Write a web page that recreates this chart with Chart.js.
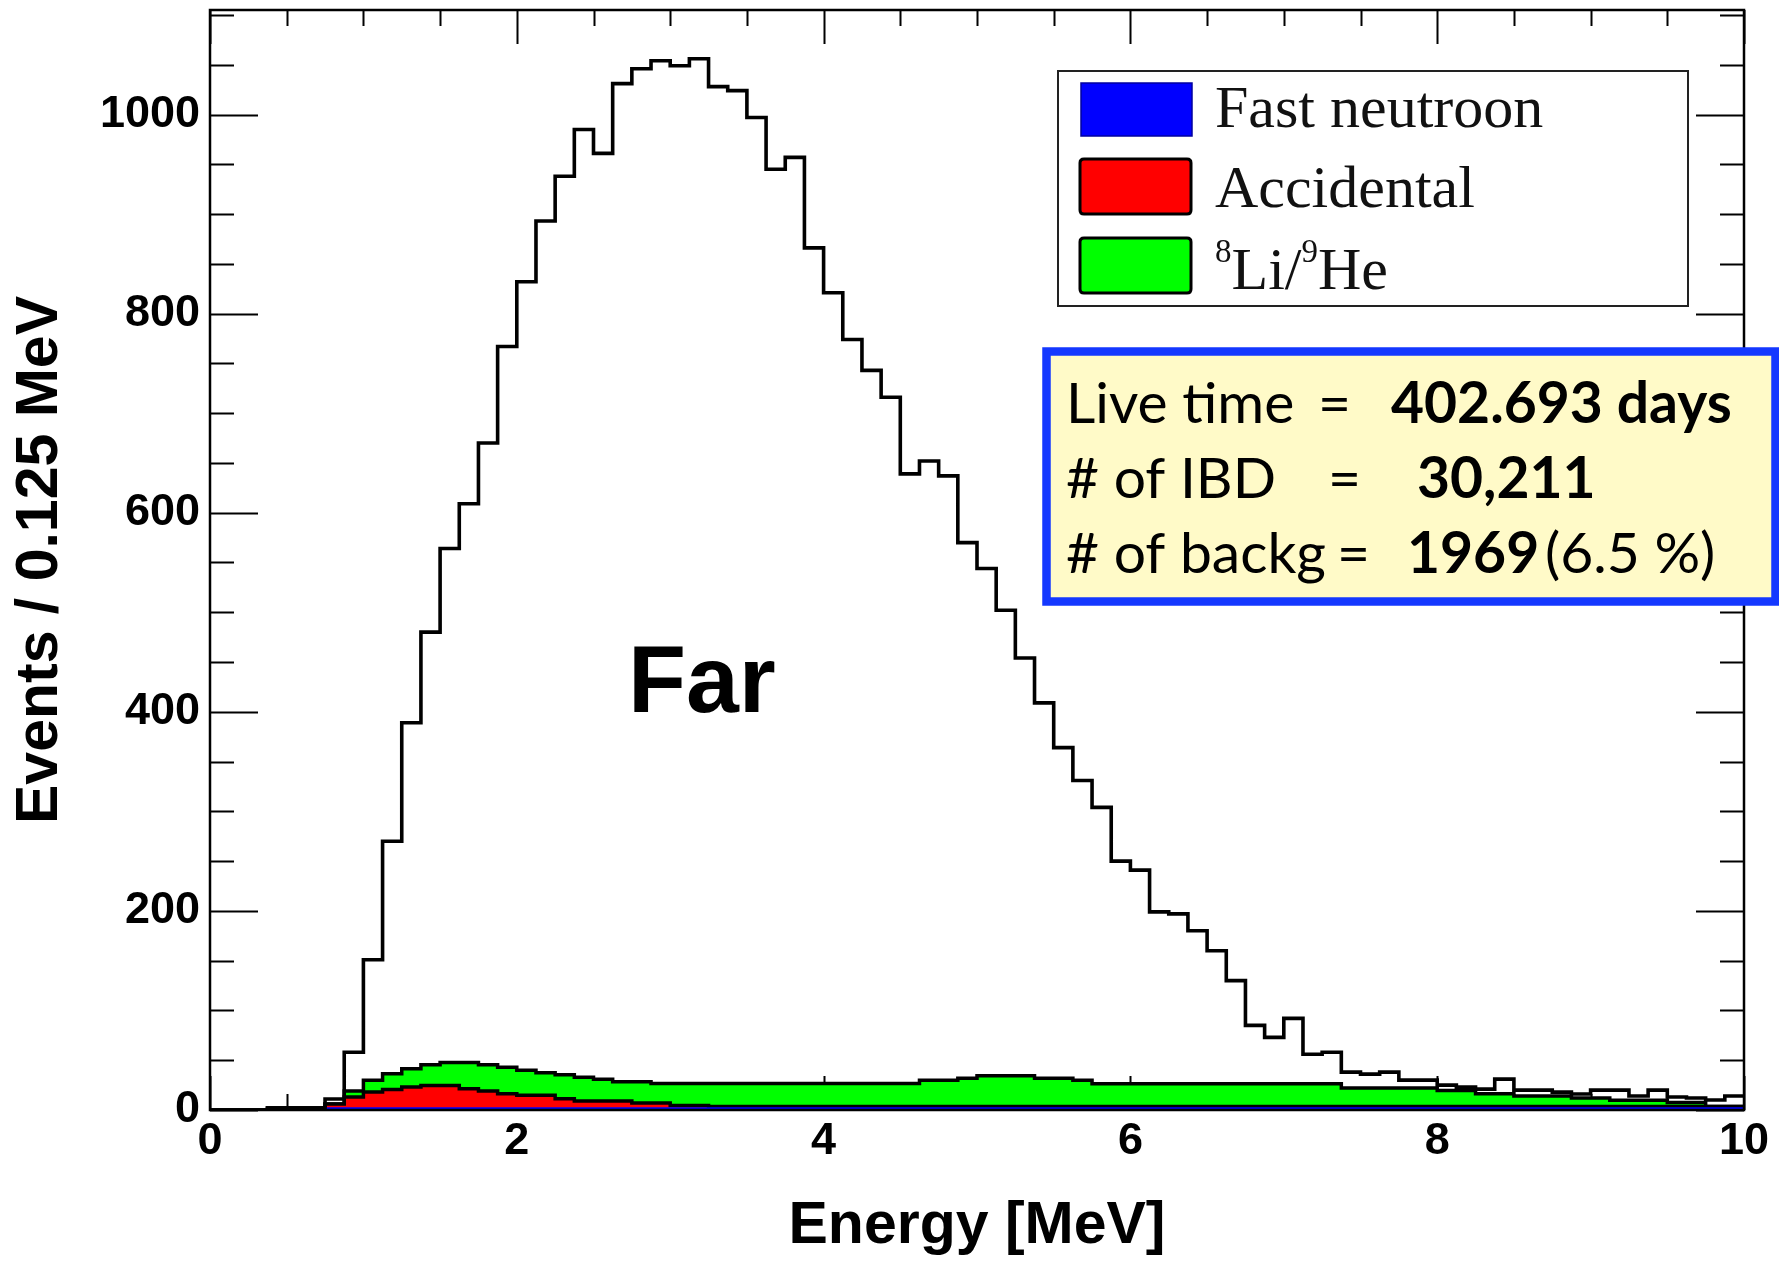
<!DOCTYPE html>
<html><head><meta charset="utf-8">
<script src="https://cdn.jsdelivr.net/npm/chart.js@4.4.1/dist/chart.umd.min.js"></script>
<style>html,body{margin:0;padding:0;background:#fff}#wrap{position:relative;width:1779px;height:1262px}</style>
</head><body><div id="wrap"><canvas id="c" width="1779" height="1262"></canvas></div>
<script>
// Bin edges (Energy, MeV), 0.125 MeV bins
const binEdges = [0,0.125,0.25,0.375,0.5,0.625,0.75,0.875,1,1.125,1.25,1.375,1.5,1.625,1.75,1.875,2,2.125,2.25,2.375,2.5,2.625,2.75,2.875,3,3.125,3.25,3.375,3.5,3.625,3.75,3.875,4,4.125,4.25,4.375,4.5,4.625,4.75,4.875,5,5.125,5.25,5.375,5.5,5.625,5.75,5.875,6,6.125,6.25,6.375,6.5,6.625,6.75,6.875,7,7.125,7.25,7.375,7.5,7.625,7.75,7.875,8,8.125,8.25,8.375,8.5,8.625,8.75,8.875,9,9.125,9.25,9.375,9.5,9.625,9.75,9.875,10];

// Observed IBD candidates per bin
const ibdCandidates = [0,0,0,2,2,2,11,58,151,270,389,480,564,609,670,767,832,893,938,985,961,1031,1046,1054,1049,1056,1028,1024,997,945,957,866,821,774,743,716,639,652,637,570,544,502,454,409,364,331,304,250,241,199,197,180,160,130,85,73,92,56,58,38,36,38,30,30,25,23,21,31,20,20,18,16,20,20,14,20,13,12,10,14];

// Background components per bin (stacked: fast neutron, accidental, 8Li/9He)
const fastNeutron = [0,0,0,2,2,2,2,2,2,2,2,2,2,2,2,2,2,2,2,2,2,2,2,2,2,2,2,2,2,2,2,2,2,2,2,2,2,2,2,2,2,2,2,2,2,2,2,2,2,2,2,2,2,2,2,2,2,2,2,2,2,2,2,2,2,2,2,2,2,2,2,2,2,2,2,2,2,2,2,2];
const accidental = [0,0,0,0,0,0,4,11,16,18.5,21,22.7,22.7,19.4,17,14.4,12.7,12.7,9.3,7,7,7,5,5,2.6,2.6,1.5,1.5,1.5,1.5,1.5,1.5,1.5,1.5,1.5,1.5,1.5,1.5,1.5,1.5,1.5,1.5,1.5,1.5,1.5,1.5,1.5,1.5,1.5,1.5,1.5,1.5,1.5,1.5,1.5,1.5,1.5,1.5,1.5,1.5,1.5,1.5,1.5,1.5,1.5,1.5,1.5,1.5,1.5,1.5,1.5,1.5,1.5,1.5,1.5,1.5,1.5,1.5,1.5,1.5];
const liHe = [0,0,0,0,0,0,0,6,12,16,18.5,20.8,22.9,26.2,26.5,26.6,25.3,22.8,24.2,24,21.8,19.5,21.5,19.5,21.9,21.9,23,23,23,23,23,23,23,23,23,23,23,26.3,26.3,28.5,31,31,31,28.5,28.5,26.3,22.9,22.9,22.9,22.9,22.9,22.9,22.9,22.9,22.9,22.9,22.9,22.9,22.9,18.5,18.5,18.5,18.5,18.5,16.2,16.2,12.9,12.9,10.5,10.5,10.5,8.5,8.5,6.2,6.2,6.2,4.1,4.1,0,0];

// Axis tick labels and tick marks
const xTickLabels = [0,2,4,6,8,10];
const yTickLabels = [0,200,400,600,800,1000];
const xTickMarks = [0,0.5,1,1.5,2,2.5,3,3.5,4,4.5,5,5.5,6,6.5,7,7.5,8,8.5,9,9.5,10];
const yTickMarks = [0,50,100,150,200,250,300,350,400,450,500,550,600,650,700,750,800,850,900,950,1000,1050,1100];

const legendLabels = ['Fast neutroon','Accidental'];

// cumulative stack table
const fnTop = fastNeutron.slice();
const accTop = fastNeutron.map((v,i)=>v+accidental[i]);
const liTop = accTop.map((v,i)=>v+liHe[i]);

function steps(vals){
  return binEdges.map((x,i)=>({x:x, y: vals[Math.min(i, vals.length-1)]}));
}

const FONT = "'Liberation Sans', Arial, Helvetica, sans-serif";

const ticksPlugin = {
  id:'rootTicks',
  beforeDatasetsDraw(chart){
    const {ctx, chartArea:a, scales:{x,y}} = chart;
    ctx.save();
    ctx.strokeStyle='#000'; ctx.lineWidth=2;
    ctx.beginPath();
    xTickMarks.forEach(v=>{
      const px = Math.round(x.getPixelForValue(v))+0.5;
      const L = xTickLabels.includes(v) ? 34 : 16;
      ctx.moveTo(px,a.bottom); ctx.lineTo(px,a.bottom-L);
      ctx.moveTo(px,a.top); ctx.lineTo(px,a.top+L);
    });
    yTickMarks.forEach(v=>{
      const py = Math.round(y.getPixelForValue(v))+0.5;
      const L = yTickLabels.includes(v) ? 48 : 24;
      ctx.moveTo(a.left,py); ctx.lineTo(a.left+L,py);
      ctx.moveTo(a.right,py); ctx.lineTo(a.right-L,py);
    });
    ctx.stroke();
    ctx.restore();
  },
  afterDatasetsDraw(chart){
    const {ctx, chartArea:a} = chart;
    ctx.save();
    ctx.strokeStyle='#000'; ctx.lineWidth=2.5;
    ctx.strokeRect(a.left, a.top, a.right-a.left, a.bottom-a.top);
    ctx.restore();
  }
};

function roundRect(ctx,x,y,w,h,r){
  ctx.beginPath();
  ctx.moveTo(x+r,y); ctx.lineTo(x+w-r,y); ctx.quadraticCurveTo(x+w,y,x+w,y+r);
  ctx.lineTo(x+w,y+h-r); ctx.quadraticCurveTo(x+w,y+h,x+w-r,y+h);
  ctx.lineTo(x+r,y+h); ctx.quadraticCurveTo(x,y+h,x,y+h-r);
  ctx.lineTo(x,y+r); ctx.quadraticCurveTo(x,y,x+r,y); ctx.closePath();
}

const annotPlugin = {
  id:'annot',
  afterDraw(chart){
    const ctx = chart.ctx;
    ctx.save();
    // "Far"
    ctx.fillStyle='#000';
    ctx.font = "bold 95px " + FONT;
    ctx.textBaseline='alphabetic'; ctx.textAlign='left';
    ctx.fillText('Far', 628, 712);

    // Legend box
    ctx.fillStyle='#fff';
    ctx.fillRect(1058,71,630,235);
    ctx.strokeStyle='#222'; ctx.lineWidth=2;
    ctx.strokeRect(1058,71,630,235);
    // swatches
    ctx.fillStyle='#0000ff'; ctx.fillRect(1081,83,111,53);
    ctx.strokeStyle='#0000a0'; ctx.lineWidth=1.5; ctx.strokeRect(1081,83,111,53);
    roundRect(ctx,1080,159,111,55,4); ctx.fillStyle='#ff0000'; ctx.fill(); ctx.strokeStyle='#000'; ctx.lineWidth=3; ctx.stroke();
    roundRect(ctx,1080,238,111,55,4); ctx.fillStyle='#00ff00'; ctx.fill(); ctx.stroke();
    ctx.fillStyle='#111';
    const serif = "'Liberation Serif', 'Times New Roman', serif";
    ctx.font = "60px " + serif;
    ctx.fillText(legendLabels[0], 1215, 127);
    ctx.fillText(legendLabels[1], 1215, 207);
    let xx = 1215;
    ctx.font = "33px " + serif; ctx.fillText('8', xx, 262); xx += ctx.measureText('8').width;
    ctx.font = "60px " + serif; ctx.fillText('Li/', xx, 289); xx += ctx.measureText('Li/').width;
    ctx.font = "33px " + serif; ctx.fillText('9', xx, 262); xx += ctx.measureText('9').width;
    ctx.font = "60px " + serif; ctx.fillText('He', xx, 289);

    // Info box
    ctx.fillStyle='#fffac8';
    ctx.fillRect(1046,351,730,251);
    ctx.strokeStyle='#1438ff'; ctx.lineWidth=8.5;
    ctx.strokeRect(1046.5,351.5,729,250);
    ctx.fillStyle='#000';
    const sans = "Lato, 'Open Sans', sans-serif";
    const N = "57px " + sans, B = "bold 57px " + sans;
    const seg = (t,x,y,f)=>{ctx.font=f; ctx.fillText(t,x,y);};
    seg('Live time',1066,423,N); seg('=',1318,423,N); seg('402.693 days',1391,423,B);
    seg('# of IBD',1066,498,N); seg('=',1328,498,N); seg('30,211',1417,498,B);
    seg('# of backg',1066,573,N); seg('=',1337,573,N); seg('1969',1407,573,B); seg('(6.5 %)',1545,573,N);
    ctx.restore();
  }
};

new Chart(document.getElementById('c'), {
  type:'line',
  data:{datasets:[
    {label:'Data', data:steps(ibdCandidates), borderColor:'#000', borderWidth:3.6, fill:false, stepped:true, pointRadius:0},
    {label:'Fast neutroon', data:steps(fnTop), borderColor:'#0000ff', backgroundColor:'#0000ff', borderWidth:1.5, fill:'origin', stepped:true, pointRadius:0},
    {label:'Accidental', data:steps(accTop), borderColor:'#000', backgroundColor:'#ff0000', borderWidth:3.5, fill:'origin', stepped:true, pointRadius:0},
    {label:'8Li/9He', data:steps(liTop), borderColor:'#000', backgroundColor:'#00ff00', borderWidth:3.5, fill:'origin', stepped:true, pointRadius:0}
  ]},
  options:{
    responsive:false, animation:false, devicePixelRatio:1,
    layout:{padding:{top:10,right:35,left:0,bottom:0}},
    plugins:{legend:{display:false}, tooltip:{enabled:false}},
    elements:{point:{radius:0}},
    scales:{
      x:{type:'linear', min:0, max:10,
        grid:{display:false, drawTicks:false}, border:{display:false},
        afterBuildTicks:s=>{s.ticks = xTickLabels.map(v=>({value:v}));},
        ticks:{font:{family:FONT, weight:'bold', size:45}, color:'#000', padding:5, maxRotation:0, autoSkip:false, callback:v=>String(v)},
        title:{display:true, text:'Energy [MeV]', color:'#000', font:{family:FONT, weight:'bold', size:59}, padding:{top:0,bottom:0}},
        afterFit:s=>{s.height=152;}
      },
      y:{type:'linear', min:0, max:1105,
        grid:{display:false, drawTicks:false}, border:{display:false},
        afterBuildTicks:s=>{s.ticks = yTickLabels.map(v=>({value:v}));},
        ticks:{font:{family:FONT, weight:'bold', size:45}, color:'#000', padding:10, autoSkip:false, includeBounds:false, callback:v=>String(v)},
        title:{display:true, text:'Events / 0.125 MeV', color:'#000', font:{family:FONT, weight:'bold', size:59}, padding:{top:5,bottom:0}},
        afterFit:s=>{s.width=210; s.paddingTop=0; s.paddingBottom=0;}
      }
    }
  },
  plugins:[ticksPlugin, annotPlugin]
});
</script></body></html>
